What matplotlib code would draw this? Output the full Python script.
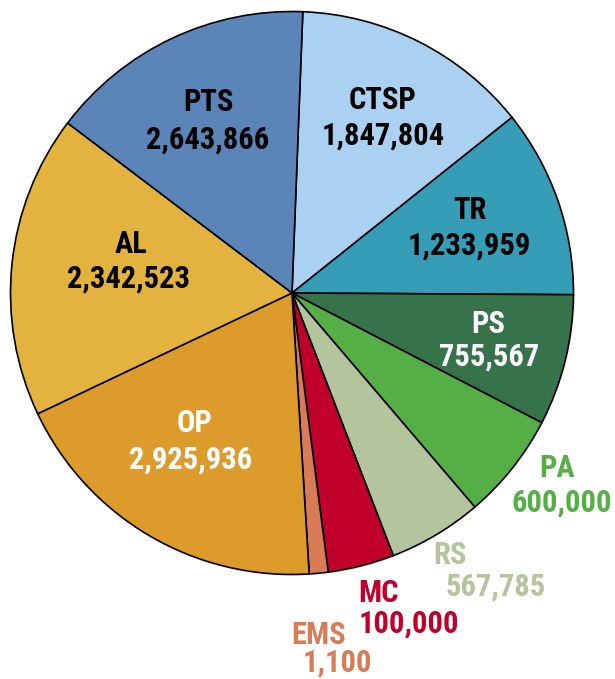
import matplotlib
matplotlib.use("Agg")
import matplotlib.pyplot as plt
from matplotlib import font_manager as fm

# Slice order (clockwise from the top)
categories = ["CTSP", "TR", "PS", "PA", "RS", "MC", "EMS", "OP", "AL", "PTS"]
label_values = ["1,847,804", "1,233,959", "755,567", "600,000", "567,785",
                "100,000", "1,100", "2,925,936", "2,342,523", "2,643,866"]
# Slice sizes as drawn in the picture (degrees of arc)
slice_sizes = [49.2, 38.95, 27.1, 22.05, 19.4, 13.7, 3.9, 68.1, 62.55, 55.05]

colors = ["#aad1f2", "#359db6", "#36724a", "#56ae47", "#b4c59e",
          "#c0002b", "#d97b55", "#dc9b2b", "#e3b23f", "#5b85b9"]
text_colors = ["black", "black", "white", "#56ae47", "#b4c59e",
               "#c0002b", "#d97b55", "white", "black", "black"]

# pick an installed bold condensed family
prefs = ["Roboto Condensed", "PT Sans Narrow", "Open Sans Condensed",
         "Barlow Condensed", "Asap Condensed", "Archivo Narrow"]
family = "DejaVu Sans"
found = {}
for f in fm.fontManager.ttflist:
    if f.weight in (700, "bold") and "[" not in f.fname:
        found.setdefault(f.name, f.fname)
for p in prefs:
    if p in found:
        family = p
        break

W, H = 615, 679
fig = plt.figure(figsize=(W / 100, H / 100), dpi=100)
ax = fig.add_axes([0, 0, 1, 1])

cx, cy, r = 292, H - 293, 281.5
ax.pie(slice_sizes, colors=colors, startangle=87.8, counterclock=False,
       center=(cx, cy), radius=r,
       wedgeprops=dict(edgecolor="black", linewidth=1.2))
ax.set_xlim(0, W)
ax.set_ylim(0, H)
ax.set_aspect("equal")
ax.axis("off")

# label line positions in pixel coordinates (name line, value line)
pos = {
    "CTSP": ((383, 97), (383, 133)),
    "TR": ((470, 207), (469, 243)),
    "PS": ((488, 321), (489, 354)),
    "PA": ((557, 465), (562, 500)),
    "RS": ((450, 552), (496, 584)),
    "MC": ((378, 590), (409, 621)),
    "EMS": ((319, 632), (337, 660)),
    "OP": ((194, 420), (191, 457)),
    "AL": ((131, 241), (129, 276)),
    "PTS": ((208, 99), (208, 137)),
}

font = dict(family=[family, "DejaVu Sans"], fontweight="bold", fontsize=22)
for cat, val, tc in zip(categories, label_values, text_colors):
    (x1, y1), (x2, y2) = pos[cat]
    ax.text(x1, H - y1, cat, color=tc, ha="center", va="center_baseline", **font)
    ax.text(x2, H - y2, val, color=tc, ha="center", va="center_baseline", **font)

fig.savefig("out.png", dpi=100)
